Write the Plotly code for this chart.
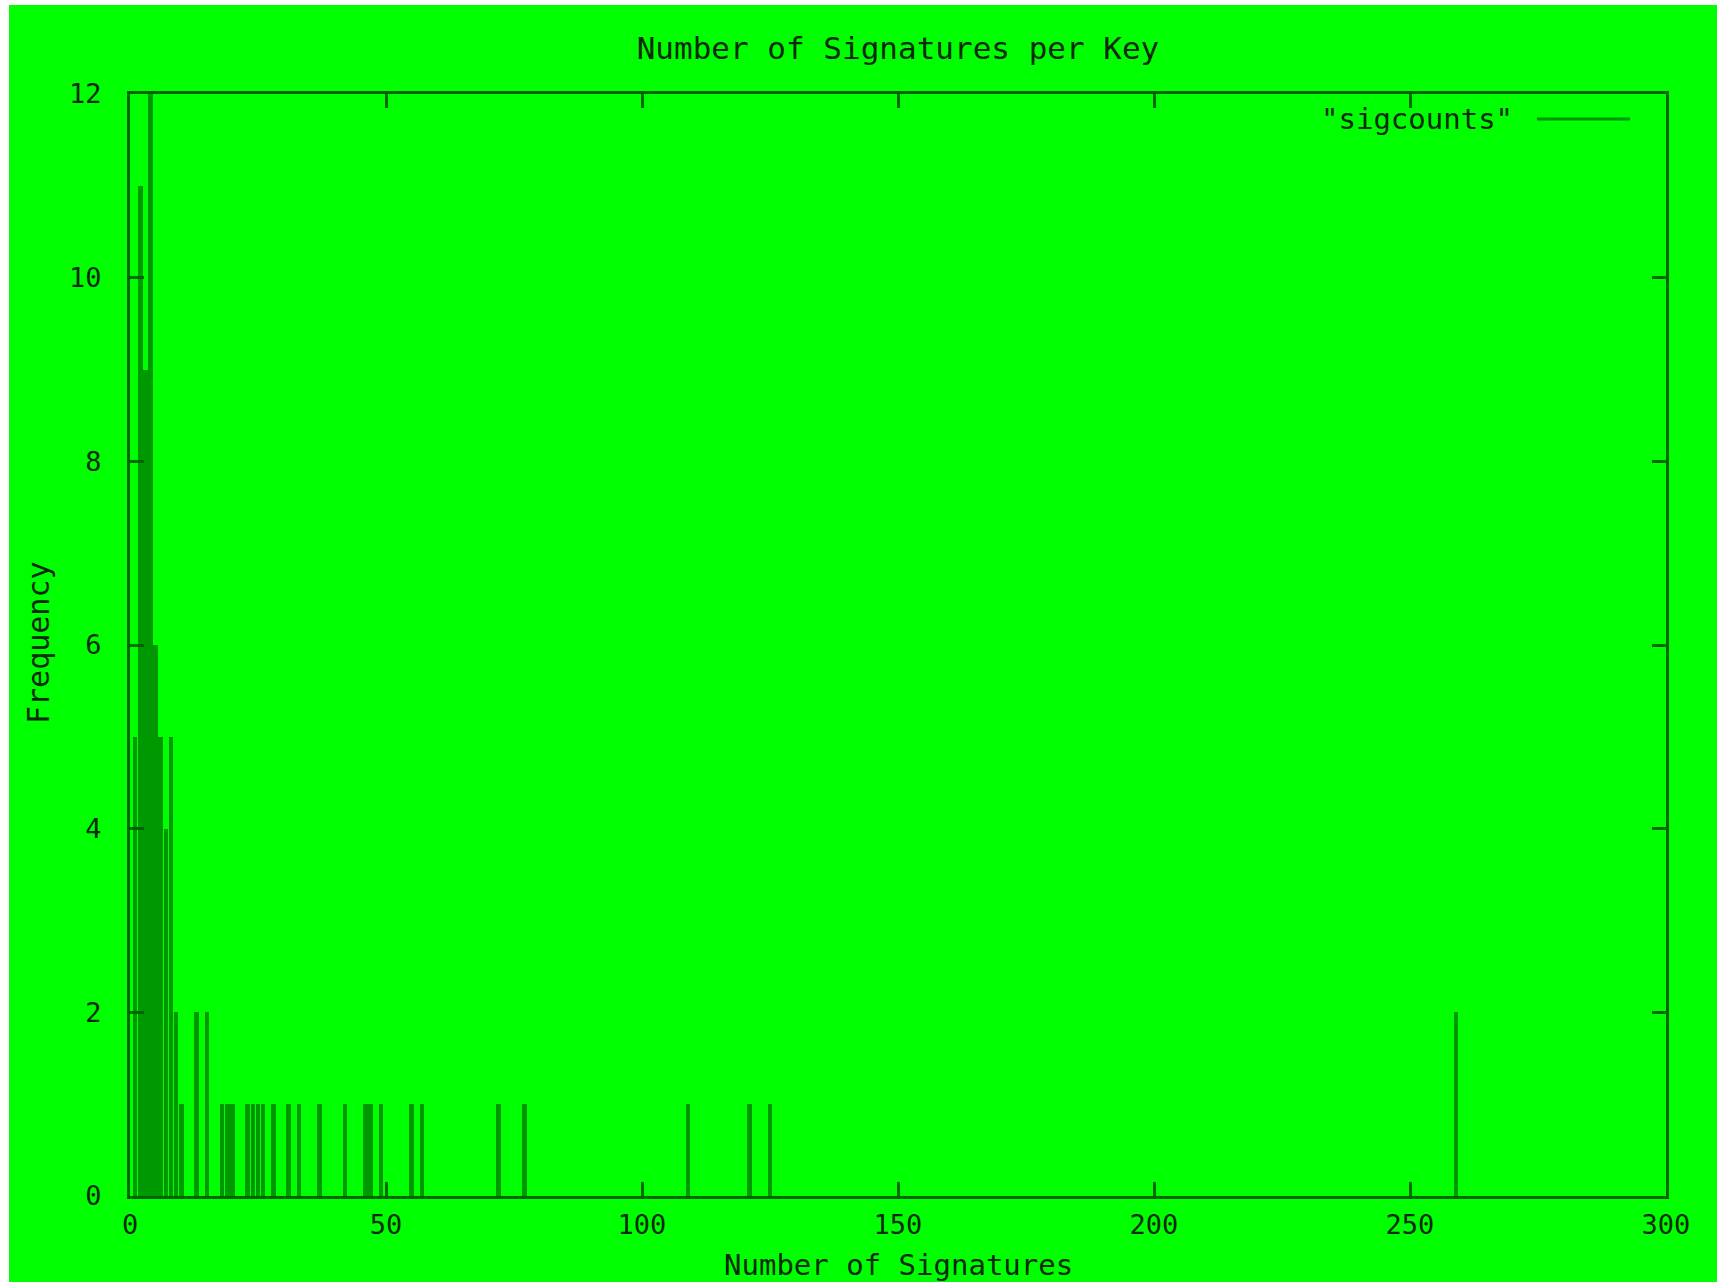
import plotly.graph_objects as go

# Data: number of signatures per key (x) and how many keys have that count (y)
num_signatures = [1, 2, 3, 4, 5, 6, 7, 8, 9, 10, 13, 15, 18, 19, 20, 23, 24, 25, 26,
                  28, 31, 33, 37, 42, 46, 47, 49, 55, 57, 72, 77, 109, 121, 125, 259]
frequency = [5, 11, 9, 12, 6, 5, 4, 5, 2, 1, 2, 2, 1, 1, 1, 1, 1, 1, 1,
             1, 1, 1, 1, 1, 1, 1, 1, 1, 1, 1, 1, 1, 1, 1, 2]

x_ticks = [0, 50, 100, 150, 200, 250, 300]
y_ticks = [0, 2, 4, 6, 8, 10, 12]
series_name = '"sigcounts"'

BG = "#00ff00"
IMP = "#009800"
AX = "#006600"
TXT = "#0a2a0a"
FONT = "DejaVu Sans Mono, Liberation Mono, monospace"

fig = go.Figure()
fig.add_trace(go.Bar(
    x=num_signatures, y=frequency, width=0.9,
    marker=dict(color=IMP, line=dict(width=0)),
    name=series_name, showlegend=False,
))

W, H = 1721, 1282
L, R, T, B = 130, 55, 94, 86
pw, ph = W - L - R, H - T - B

def px(xp):
    return (xp - L) / pw

def py(yp):
    return (H - B - yp) / ph

axis_common = dict(
    showline=True, linecolor=AX, linewidth=3, mirror="ticks",
    ticks="inside", ticklen=14, tickwidth=3, tickcolor=AX,
    showgrid=False, zeroline=False,
    tickfont=dict(family=FONT, size=27, color=TXT),
)

fig.update_layout(
    width=W, height=H,
    margin=dict(l=L, r=R, t=T, b=B, pad=0),
    paper_bgcolor="white", plot_bgcolor=BG,
    bargap=0,
    title=dict(text="Number of Signatures per Key", x=0.5, xref="paper",
               y=1 - 48 / H, yref="container", yanchor="middle", xanchor="center",
               font=dict(family=FONT, size=31, color=TXT)),
    xaxis=dict(range=[0, 300], tickvals=x_ticks, ticklabelstandoff=3, **axis_common),
    yaxis=dict(range=[0, 12], tickvals=y_ticks, ticklabelstandoff=20, **axis_common),
    shapes=[
        dict(type="rect", xref="paper", yref="paper", layer="below",
             x0=px(9), x1=px(1717), y0=py(1290), y1=py(5),
             fillcolor=BG, line=dict(width=0)),
        dict(type="line", xref="paper", yref="paper",
             x0=px(1537), x1=px(1630), y0=py(119), y1=py(119),
             line=dict(color=IMP, width=3)),
    ],
    annotations=[
        dict(text="Number of Signatures", xref="paper", yref="paper",
             x=0.5, y=py(1265), xanchor="center", yanchor="middle", showarrow=False,
             font=dict(family=FONT, size=29, color=TXT)),
        dict(text="Frequency", xref="paper", yref="paper", textangle=-90,
             x=px(38), y=py(643), xanchor="center", yanchor="middle", showarrow=False,
             font=dict(family=FONT, size=30, color=TXT)),
        dict(text=series_name, xref="paper", yref="paper",
             x=px(1515), y=py(119), xanchor="right", yanchor="middle", showarrow=False,
             font=dict(family=FONT, size=29, color=TXT)),
    ],
)

fig.write_html("out.html", config={"displayModeBar": False},
               post_script="document.body.style.margin='0';document.body.style.overflow='hidden';")
